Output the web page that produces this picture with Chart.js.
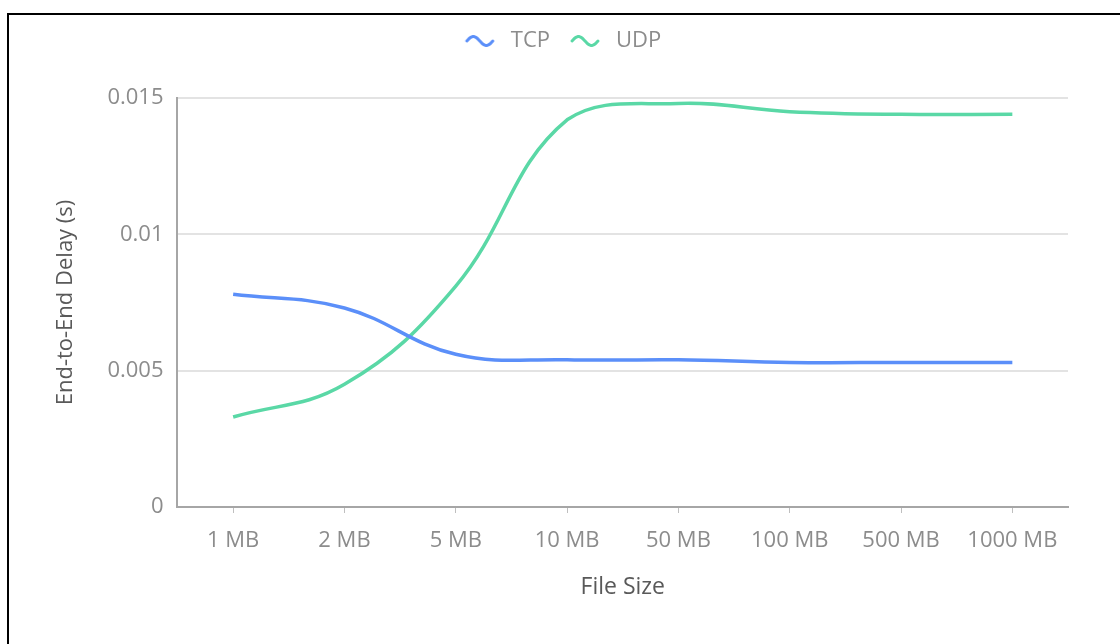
<!DOCTYPE html>
<html>
<head>
<meta charset="utf-8">
<script src="https://cdn.jsdelivr.net/npm/chart.js@4"></script>
<style>
html, body { margin: 0; padding: 0; background: #fff; }
#frame {
    position: absolute; left: 7px; top: 13px; width: 1113px; height: 631px;
    border-left: 2px solid #000; border-top: 2px solid #000; box-sizing: border-box;
}
#wrap { position: absolute; left: 0; top: 0; width: 1111px; height: 629px; }
</style>
</head>
<body>
<div id="frame"><div id="wrap"><canvas id="delayChart"></canvas></div></div>
<script>
// --- Data ---
const fileSizes = ['1 MB', '2 MB', '5 MB', '10 MB', '50 MB', '100 MB', '500 MB', '1000 MB'];
const tcpDelay = [0.0078, 0.0073, 0.0056, 0.0054, 0.0054, 0.0053, 0.0053, 0.0053];
const udpDelay = [0.0033, 0.0045, 0.0081, 0.0142, 0.0148, 0.0145, 0.0144, 0.0144];
const yTicks = [0, 0.005, 0.01, 0.015];

const TCP_COLOR = '#5B8FF9';
const UDP_COLOR = '#5AD8A6';
const FONT = "'Open Sans', sans-serif";

// small wave icon for legend entries
const waveIcon = (color) => {
    const c = document.createElement('canvas');
    c.width = 32; c.height = 16;
    const ctx = c.getContext('2d');
    ctx.strokeStyle = color;
    ctx.lineWidth = 3;
    ctx.lineCap = 'round';
    ctx.beginPath();
    for (let i = 0; i <= 26; i++) {
        const t = (i / 26) * Math.PI * 2;
        const x = 3 + i;
        const y = 8 - Math.sin(t) * 4.5;
        if (i === 0) ctx.moveTo(x, y); else ctx.lineTo(x, y);
    }
    ctx.stroke();
    return c;
};

// extra room below the legend
const legendMargin = {
    id: 'legendMargin',
    beforeInit(chart) {
        const fit = chart.legend.fit;
        chart.legend.fit = function () {
            fit.bind(chart.legend)();
            this.height += 36;
        };
    }
};

new Chart(document.getElementById('delayChart'), {
    type: 'line',
    data: {
        labels: fileSizes,
        datasets: [
            {
                label: 'TCP',
                data: tcpDelay,
                borderColor: TCP_COLOR,
                backgroundColor: TCP_COLOR,
                borderWidth: 3.5,
                pointRadius: 0,
                tension: 0.4,
                pointStyle: waveIcon(TCP_COLOR)
            },
            {
                label: 'UDP',
                data: udpDelay,
                borderColor: UDP_COLOR,
                backgroundColor: UDP_COLOR,
                borderWidth: 3.5,
                pointRadius: 0,
                tension: 0.4,
                pointStyle: waveIcon(UDP_COLOR)
            }
        ]
    },
    options: {
        responsive: true,
        maintainAspectRatio: false,
        animation: false,
        layout: { padding: { left: 44, right: 52, top: 0, bottom: 43 } },
        plugins: {
            legend: {
                position: 'top',
                labels: {
                    usePointStyle: true,
                    pointStyleWidth: 40,
                    color: '#8c8c8c',
                    font: { family: FONT, size: 22 },
                    padding: 15
                }
            },
            tooltip: { enabled: false }
        },
        scales: {
            x: {
                offset: true,
                grid: { display: true, drawOnChartArea: false, color: '#bfbfbf', tickLength: 6, lineWidth: 1 },
                border: { display: true, color: '#a6a6a6', width: 2 },
                ticks: { color: '#8c8c8c', font: { family: FONT, size: 22 }, padding: 15, maxRotation: 0 },
                title: {
                    display: true, text: 'File Size', color: '#595959',
                    font: { family: FONT, size: 23 }, padding: { top: 4, bottom: 0 }
                }
            },
            y: {
                min: 0,
                max: 0.015,
                afterBuildTicks: (axis) => { axis.ticks = yTicks.map(v => ({ value: v })); },
                grid: { color: '#e3e3e3', lineWidth: 2, drawTicks: false },
                border: { display: true, color: '#a6a6a6', width: 2 },
                ticks: {
                    color: '#8c8c8c', font: { family: FONT, size: 22 }, padding: 14,
                    callback: (v) => String(v)
                },
                title: {
                    display: true, text: 'End-to-End Delay (s)', color: '#595959',
                    font: { family: FONT, size: 22 }, padding: { top: 0, bottom: 14 }
                }
            }
        }
    },
    plugins: [legendMargin]
});
</script>
</body>
</html>
